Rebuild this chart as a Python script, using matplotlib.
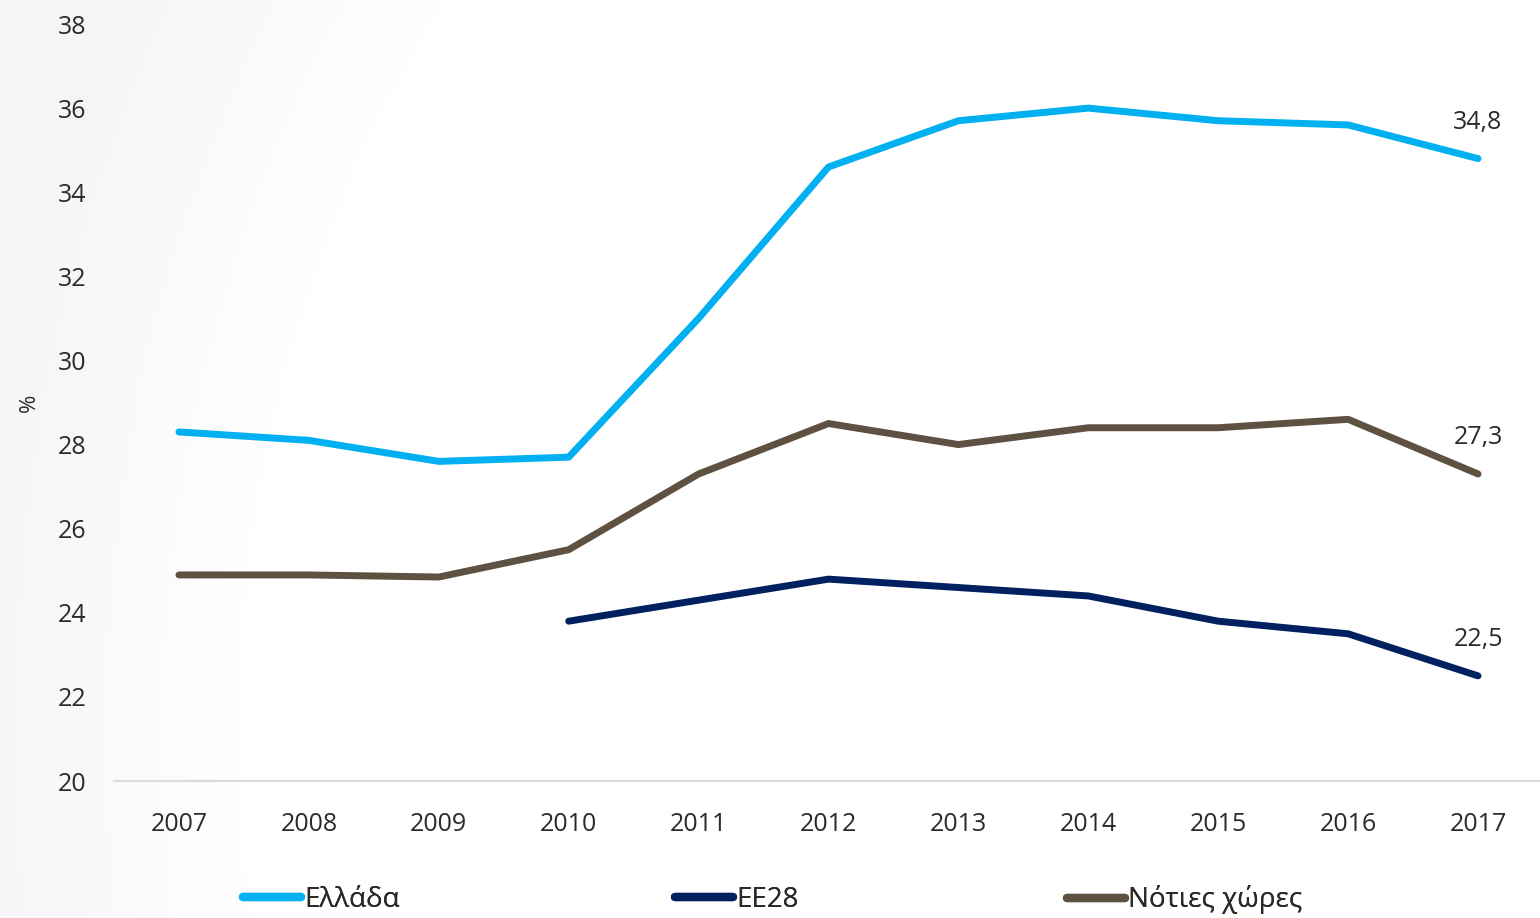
import matplotlib
matplotlib.use("Agg")
from matplotlib import pyplot as plt
import numpy as np

plt.rcParams['font.family'] = ['Open Sans', 'DejaVu Sans']

years = [2007, 2008, 2009, 2010, 2011, 2012, 2013, 2014, 2015, 2016, 2017]
greece = [28.3, 28.1, 27.6, 27.7, 31.0, 34.6, 35.7, 36.0, 35.7, 35.6, 34.8]
eu28 = [None, None, None, 23.8, 24.3, 24.8, 24.6, 24.4, 23.8, 23.5, 22.5]
south = [24.9, 24.9, 24.85, 25.5, 27.3, 28.5, 28.0, 28.4, 28.4, 28.6, 27.3]

names = ["Ελλάδα", "ΕΕ28", "Νότιες χώρες"]
colors = ["#00B0F0", "#002060", "#5E5142"]
txt = "#2b2a26"

fig = plt.figure(figsize=(15.4, 9.18), dpi=100)

# soft grey shading on the left edge
bg = fig.add_axes([0, 0, 1, 1], zorder=-5)
gx, gy = np.meshgrid(np.linspace(0, 1, 400), np.linspace(0, 1, 300))
d = np.sqrt(((gx - 0.75) / 0.75) ** 2 + ((gy - 0.2) / 1.6) ** 2)
shade = np.clip((d - 0.78) / 0.25, 0, 1)
bg.imshow(shade, cmap="Greys", vmin=0, vmax=12, aspect="auto", extent=[0, 1, 0, 1], origin="lower")
bg.axis("off")

ax = fig.add_axes([114 / 1540, 137 / 918, 1 - 114 / 1540, (781 - 24) / 918])
ax.patch.set_alpha(0)
x = np.arange(len(years))

series = [greece, eu28, south]
lines = []
for vals, c, n in zip(series, colors, names):
    v = np.array([np.nan if a is None else a for a in vals], dtype=float)
    ln, = ax.plot(x, v, color=c, lw=5, solid_capstyle="round", solid_joinstyle="round", label=n)
    lines.append(ln)
    ax.annotate(f"{v[-1]:.1f}".replace(".", ","), (x[-1], v[-1]), xytext=(0, 26),
                textcoords="offset points", ha="center", va="center", fontsize=18, color=txt)

ax.set_ylim(20, 38)
ax.set_yticks(np.arange(20, 39, 2))
ax.set_xlim(-0.5, 10.477)
ax.set_xticks(x)
ax.set_xticklabels([str(y) for y in years])
ax.tick_params(length=0, labelsize=18, labelcolor=txt)
ax.tick_params(axis="y", pad=20)
ax.tick_params(axis="x", pad=22)
for s in ["top", "right", "left"]:
    ax.spines[s].set_visible(False)
ax.spines["bottom"].set_color("#dedbd6")
ax.spines["bottom"].set_linewidth(1.5)
ax.set_ylabel("%", fontsize=16, color=txt)
ax.yaxis.set_label_coords(-0.052, 0.5)

# legend entries placed separately along the bottom
legx = [243, 675, 1067]
for ln, px in zip(lines, legx):
    lg = fig.legend([ln], [ln.get_label()], loc="center left", bbox_to_anchor=(px / 1540, 18 / 918),
                    frameon=False, fontsize=20, handlelength=2.1, handletextpad=0.1,
                    labelcolor=txt, borderaxespad=0, borderpad=0)
    for h in lg.get_lines():
        h.set_linewidth(6)
    fig.add_artist(lg)

fig.savefig("out.png", dpi=100)
